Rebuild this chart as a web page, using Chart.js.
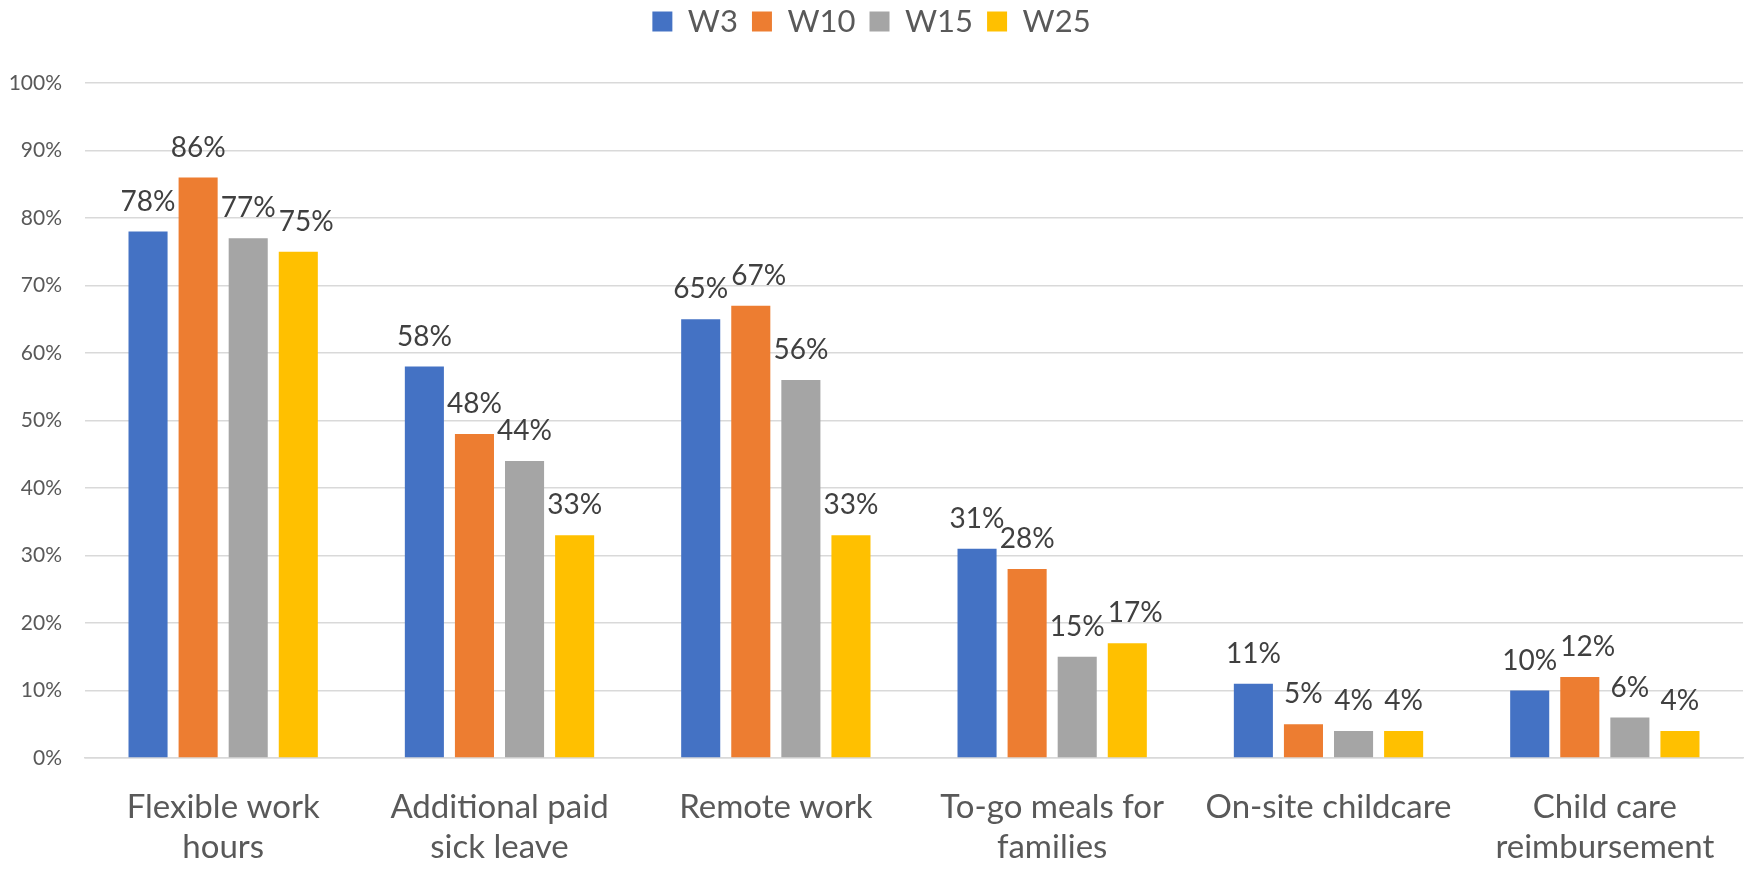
<!DOCTYPE html>
<html>
<head>
<meta charset="utf-8">
<script src="https://cdn.jsdelivr.net/npm/chart.js@4"></script>
<style>
  html, body { margin: 0; padding: 0; background: #ffffff; }
  #wrap { width: 1746px; height: 869px; position: relative; }
</style>
</head>
<body>
<div id="wrap"><canvas id="c"></canvas></div>
<script>
const categories = [
  ["Flexible work", "hours"],
  ["Additional paid", "sick leave"],
  ["Remote work"],
  ["To-go meals for", "families"],
  ["On-site childcare"],
  ["Child care", "reimbursement"]
];
const seriesNames = ["W3", "W10", "W15", "W25"];
const w3  = [78, 58, 65, 31, 11, 10];
const w10 = [86, 48, 67, 28, 5, 12];
const w15 = [77, 44, 56, 15, 4, 6];
const w25 = [75, 33, 33, 17, 4, 4];
const seriesColors = ["#4472C4", "#ED7D31", "#A5A5A5", "#FFC000"];
const yTicks = [0, 10, 20, 30, 40, 50, 60, 70, 80, 90, 100];

const FONT = "Lato, 'Open Sans', sans-serif";
const allSeries = [w3, w10, w15, w25];

const dataLabels = {
  id: 'dataLabels',
  afterDatasetsDraw(chart) {
    const ctx = chart.ctx;
    ctx.save();
    ctx.font = "28px " + FONT;
    ctx.fillStyle = "#404040";
    ctx.textAlign = "center";
    ctx.textBaseline = "alphabetic";
    const n = chart.data.labels.length;
    for (let i = 0; i < n; i++) {
      let prev = null;
      chart.data.datasets.forEach((ds, di) => {
        const meta = chart.getDatasetMeta(di);
        const bar = meta.data[i];
        const text = ds.data[i] + "%";
        const w = ctx.measureText(text).width;
        let cx = bar.x;
        const base = bar.y - 21;
        const top = base - 20;
        if (prev) {
          const vOverlap = !(base < prev.top || top > prev.base);
          const left = cx - w / 2;
          if (vOverlap && left < prev.right + 3) {
            cx += (prev.right + 3 - left);
          }
        }
        ctx.fillText(text, cx, base);
        prev = { right: cx + w / 2, top: top, base: base };
      });
    }
    ctx.restore();
  }
};

const legendSize = {
  id: 'legendSize',
  beforeInit(chart) {
    const lg = chart.legend;
    if (lg) {
      const f = lg.fit;
      lg.fit = function () { f.call(this); this.height = 83; };
      const d = lg.draw;
      lg.draw = function () {
        const ctx = this.ctx;
        ctx.save();
        ctx.translate(0, -8);
        d.call(this);
        ctx.restore();
      };
    }
  }
};

new Chart(document.getElementById('c'), {
  type: 'bar',
  data: {
    labels: categories,
    datasets: allSeries.map((d, i) => ({
      label: seriesNames[i],
      data: d,
      backgroundColor: seriesColors[i],
      borderWidth: 0,
      categoryPercentage: 0.725,
      barPercentage: 0.78
    }))
  },
  options: {
    responsive: true,
    maintainAspectRatio: false,
    devicePixelRatio: 1,
    animation: false,
    layout: { padding: { left: 0, right: 3, top: 0, bottom: 0 } },
    plugins: {
      legend: {
        position: 'top',
        align: 'center',
        labels: {
          boxWidth: 20,
          boxHeight: 20,
          padding: 14,
          color: '#595959',
          font: { family: FONT, size: 31 }
        }
      },
      tooltip: { enabled: false }
    },
    scales: {
      x: {
        grid: { display: false, drawTicks: false },
        border: { display: true, color: '#d9d9d9', width: 1.5 },
        ticks: {
          color: '#595959',
          font: { family: FONT, size: 33, lineHeight: 1.21 },
          padding: 29,
          maxRotation: 0,
          autoSkip: false
        },
        afterFit(scale) { scale.height = 111; }
      },
      y: {
        min: 0,
        max: 100,
        afterBuildTicks(scale) { scale.ticks = yTicks.map(v => ({ value: v })); },
        grid: { color: '#d9d9d9', lineWidth: 1.5, drawTicks: false },
        border: { display: false },
        ticks: {
          color: '#595959',
          font: { family: FONT, size: 21 },
          padding: 23,
          callback: v => v + '%'
        },
        afterFit(scale) { scale.width = 85; }
      }
    }
  },
  plugins: [legendSize, dataLabels]
});
</script>
</body>
</html>
